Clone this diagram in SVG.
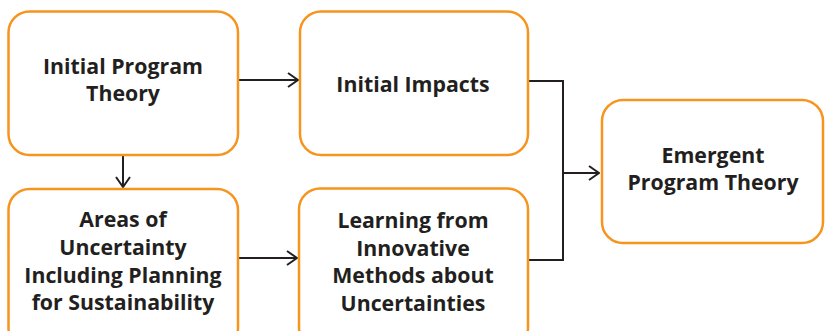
<svg xmlns="http://www.w3.org/2000/svg" width="825" height="331" viewBox="0 0 825 331">
<style>
.box{fill:#fff;stroke:#F7941D;stroke-width:2.5}
.t{font-family:"Open Sans","Liberation Sans",sans-serif;font-weight:700;font-size:21.3px;fill:#231F20;text-anchor:middle}
.c{fill:none;stroke:#231F20;stroke-width:2}
</style>
<defs>
<marker id="ah" viewBox="0 0 12 16" refX="11" refY="8" markerWidth="12" markerHeight="16" markerUnits="userSpaceOnUse" orient="auto">
<path d="M1,1 L11,8 L1,15" fill="none" stroke="#231F20" stroke-width="2"/>
</marker>
</defs>
<g id="connectors">
<path class="c" d="M238,80 H298" marker-end="url(#ah)"/>
<path class="c" d="M123,155 V187" marker-end="url(#ah)"/>
<path class="c" d="M238,258 H297" marker-end="url(#ah)"/>
<path class="c" d="M528,81 H563 V260 H527"/>
<path class="c" d="M563,173 H599" marker-end="url(#ah)"/>
</g>
<g id="n1">
<rect class="box" x="8.5" y="11.5" width="229.5" height="143.5" rx="21"/>
<text class="t" x="123" y="74">Initial Program</text>
<text class="t" x="123" y="101">Theory</text>
</g>
<g id="n2">
<rect class="box" x="300" y="11.5" width="228" height="143.5" rx="21"/>
<text class="t" x="413" y="92">Initial Impacts</text>
</g>
<g id="n3">
<rect class="box" x="8.5" y="189" width="229.5" height="160" rx="21"/>
<text class="t" x="123" y="227">Areas of</text>
<text class="t" x="123" y="255">Uncertainty</text>
<text class="t" x="123" y="283">Including Planning</text>
<text class="t" x="123" y="310">for Sustainability</text>
</g>
<g id="n4">
<rect class="box" x="299" y="188.5" width="229" height="160" rx="21"/>
<text class="t" x="413" y="228">Learning from</text>
<text class="t" x="413" y="256">Innovative</text>
<text class="t" x="413" y="283">Methods about</text>
<text class="t" x="413" y="311">Uncertainties</text>
</g>
<g id="n5">
<rect class="box" x="602" y="100" width="221" height="143" rx="21"/>
<text class="t" x="713" y="163">Emergent</text>
<text class="t" x="713" y="190">Program Theory</text>
</g>
</svg>
